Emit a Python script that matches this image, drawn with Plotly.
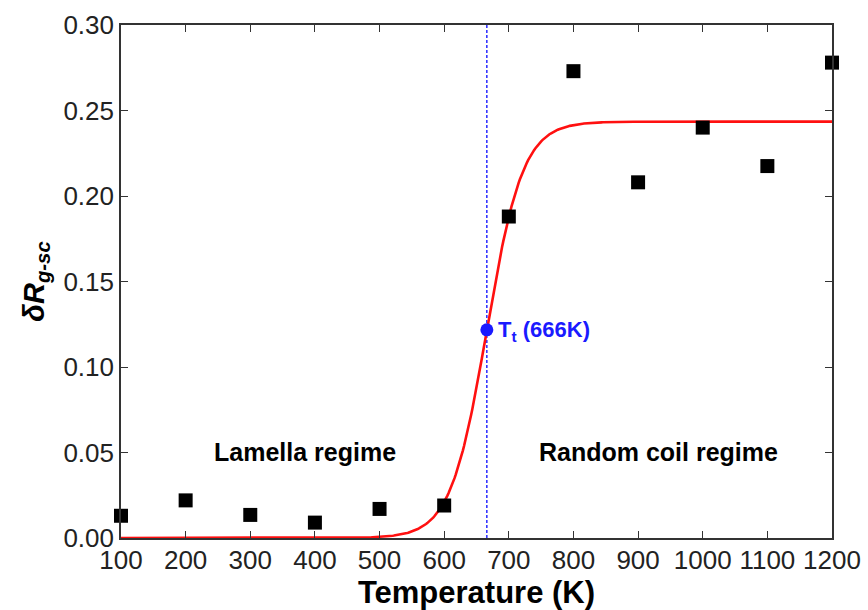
import numpy as np
import plotly.graph_objects as go

# Measured points
temperature = [100, 200, 300, 400, 500, 600, 700, 800, 900, 1000, 1100, 1200]
delta_rg = [0.013, 0.022, 0.0135, 0.009, 0.017, 0.019, 0.188, 0.273, 0.208, 0.240, 0.2175, 0.278]

# Boltzmann sigmoid fit parameters
fit_amplitude = 0.2435
fit_center = 666
fit_width = 28

x_ticks = [100, 200, 300, 400, 500, 600, 700, 800, 900, 1000, 1100, 1200]
y_ticks = [0.00, 0.05, 0.10, 0.15, 0.20, 0.25, 0.30]

fit_x = np.linspace(100, 1200, 600)
fit_y = fit_amplitude / (1 + np.exp(-(fit_x - fit_center) / fit_width))
tt_y = fit_amplitude / 2

FONT = "Arial, Liberation Sans, Helvetica, sans-serif"

fig = go.Figure()

# transition marker line
fig.add_trace(go.Scatter(
    x=[fit_center, fit_center], y=[0, 0.30], mode="lines",
    line=dict(color="#1a1aff", width=1.4, dash="3px,2px"),
    hoverinfo="skip", showlegend=False))

fig.add_trace(go.Scatter(
    x=fit_x, y=fit_y, mode="lines",
    line=dict(color="#ff1010", width=2.6),
    showlegend=False, cliponaxis=False))

fig.add_trace(go.Scatter(
    x=temperature, y=delta_rg, mode="markers",
    marker=dict(symbol="square", size=14, color="black"),
    showlegend=False, cliponaxis=False))

fig.add_trace(go.Scatter(
    x=[fit_center], y=[tt_y], mode="markers",
    marker=dict(symbol="circle", size=13, color="#1a1aff"),
    showlegend=False, cliponaxis=False))

fig.add_annotation(
    x=fit_center, y=tt_y, xref="x", yref="y", xanchor="left", yanchor="middle",
    xshift=9, yshift=-1, showarrow=False,
    text="<b>T<sub>t</sub> (666K)</b>",
    font=dict(family=FONT, size=22, color="#1a1aff"))

fig.add_annotation(
    x=384, y=0.0505, xref="x", yref="y", showarrow=False,
    text="<b>Lamella regime</b>",
    font=dict(family=FONT, size=25, color="black"))

fig.add_annotation(
    x=931, y=0.0505, xref="x", yref="y", showarrow=False,
    text="<b>Random coil regime</b>",
    font=dict(family=FONT, size=25, color="black"))

axis_common = dict(
    showgrid=False, zeroline=False, showline=True, linecolor="#333",
    linewidth=1.6, mirror="ticks", ticks="inside", ticklen=7,
    tickwidth=1.4, tickcolor="#333", automargin=False,
    tickfont=dict(family=FONT, size=26, color="#222"))

fig.update_xaxes(
    range=[100, 1200], tickvals=x_ticks, ticktext=[str(v) for v in x_ticks],
    title=dict(text="<b>Temperature (K)</b>", standoff=2,
               font=dict(family=FONT, size=31, color="black")),
    ticklabelstandoff=-2,
    **axis_common)
fig.update_yaxes(
    range=[0, 0.30], tickvals=y_ticks, ticktext=[f"{v:.2f}" for v in y_ticks],
    title=dict(text="<b><i>δR<sub>g-sc</sub></i></b>", standoff=10,
               font=dict(family=FONT, size=29, color="black")),
    **axis_common)

fig.update_layout(
    width=868, height=610,
    margin=dict(l=121, r=36, t=25, b=72),
    plot_bgcolor="white", paper_bgcolor="white")

fig.write_html("out.html")
